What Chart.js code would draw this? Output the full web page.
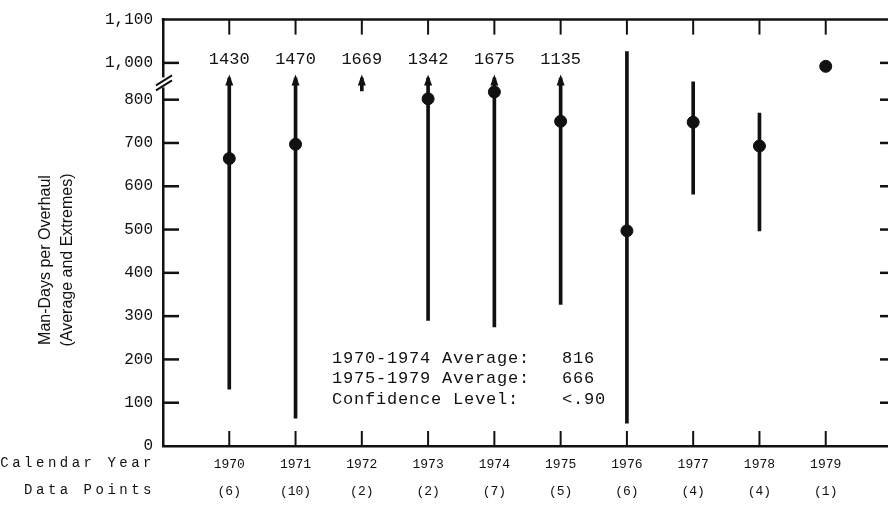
<!DOCTYPE html>
<html>
<head>
<meta charset="utf-8">
<script src="https://cdn.jsdelivr.net/npm/chart.js@4/dist/chart.umd.min.js"></script>
<style>
  html, body { margin: 0; padding: 0; background: #fff; overflow: hidden; }
  #wrap { width: 900px; height: 506px; }
</style>
</head>
<body>
<div id="wrap"><canvas id="c" width="900" height="506"></canvas></div>
<script>
// Overhaul durations by calendar year: average and extremes (man-days)
const years      = [1970, 1971, 1972, 1973, 1974, 1975, 1976, 1977, 1978, 1979];
const dataPoints = [6, 10, 2, 2, 7, 5, 6, 4, 4, 1];
const averages   = [664, 697, null, 802, 818, 750, 497, 748, 693, 992];
const lows       = [131, 64, null, 290, 275, 327, 53, 582, 497, 992];
const highs      = [1430, 1470, 1669, 1342, 1675, 1135, 1026, 841, 769, 992];
const yTickValues = [0, 100, 200, 300, 400, 500, 600, 700, 800, 1000, 1100];
const yTitleLines = ['Man-Days per Overhaul', '(Average and Extremes)'];
const summaryRows = [
  ['1970-1974 Average:', '816'],
  ['1975-1979 Average:', '666'],
  ['Confidence Level:',  '<.90']
];

// Broken value axis: 0-850 is linear, 850-975 is squeezed, above 975 shifted down.
const BREAK_FROM = 850, BREAK_TO = 975, BREAK_SPAN = 10, SHIFT = 115;
const AXIS_TOP = 1100 - SHIFT;
function toAxis(v) {
  if (v <= BREAK_FROM) return v;
  if (v >= BREAK_TO) return v - SHIFT;
  return BREAK_FROM + (v - BREAK_FROM) * BREAK_SPAN / (BREAK_TO - BREAK_FROM);
}
// Off-scale maxima end in an arrow just above the break
const ARROW_TIP = 858;     // axis units
const ARROW_BASE = 850;
const STUB_FROM = 820;     // short arrow when the whole range is off-scale
const BREAK_MARK = 840;

const ink = '#111';
const mono = '"Liberation Mono", "DejaVu Sans Mono", monospace';

const rangeData = years.map((yr, i) => {
  const hi = highs[i] == null ? null : Math.min(toAxis(highs[i]), highs[i] > 1100 ? ARROW_BASE : AXIS_TOP);
  const lo = lows[i] == null ? (highs[i] > 1100 ? STUB_FROM : null) : toAxis(lows[i]);
  return { x: yr, y: (lo == null || hi == null) ? null : [lo, hi] };
});
const meanData = years.map((yr, i) => ({ x: yr, y: averages[i] == null ? null : toAxis(averages[i]) }));

function labelFor(axisValue) {
  const v = yTickValues.find(t => Math.abs(toAxis(t) - axisValue) < 0.01);
  return v == null ? '' : v.toLocaleString('en-US');
}

const overlay = {
  id: 'overlay',
  afterDraw(chart) {
    const { ctx, chartArea: a, scales: { x, y } } = chart;
    const seg = (x1, y1, x2, y2) => { ctx.beginPath(); ctx.moveTo(x1, y1); ctx.lineTo(x2, y2); ctx.stroke(); };
    ctx.save();
    ctx.strokeStyle = ink; ctx.fillStyle = ink; ctx.lineWidth = 2.5;

    // top frame
    seg(a.left - 1.25, a.top, a.right, a.top);

    // inward tick marks on all four sides
    yTickValues.forEach(t => {
      if (t === 0 || t === 1100) return;
      const py = y.getPixelForValue(toAxis(t));
      seg(a.left, py, a.left + 16, py);
      seg(a.right - 12, py, a.right, py);
    });
    ctx.lineWidth = 2;
    years.forEach(yr => {
      const px = x.getPixelForValue(yr);
      seg(px, a.bottom, px, a.bottom - 15);
      seg(px, a.top, px, a.top + 15);
    });

    // axis break
    const by = y.getPixelForValue(BREAK_MARK);
    ctx.fillStyle = '#fff';
    ctx.fillRect(a.left - 3, by - 5, 6, 10);
    ctx.fillStyle = ink;
    seg(a.left - 7, by + 3, a.left + 9, by - 7);
    seg(a.left - 7, by + 8, a.left + 9, by - 2);

    // arrows and stated maxima for off-scale extremes
    ctx.font = '17px ' + mono;
    ctx.textAlign = 'center';
    ctx.textBaseline = 'middle';
    years.forEach((yr, i) => {
      if (!(highs[i] > 1100)) return;
      const px = x.getPixelForValue(yr);
      const tip = y.getPixelForValue(ARROW_TIP);
      ctx.beginPath();
      ctx.moveTo(px, tip);
      ctx.lineTo(px - 4, tip + 11);
      ctx.lineTo(px + 4, tip + 11);
      ctx.closePath();
      ctx.fill();
      ctx.fillText(String(highs[i]), px, tip - 15);
    });

    // value-axis title, two rotated lines
    ctx.save();
    ctx.translate(46, 260);
    ctx.rotate(-Math.PI / 2);
    ctx.font = '16px "Liberation Sans", Arial, sans-serif';
    yTitleLines.forEach((t, i) => ctx.fillText(t, 0, i * 22));
    ctx.restore();

    // row headers beside the year and count labels
    ctx.font = '14px ' + mono;
    if ('letterSpacing' in ctx) ctx.letterSpacing = '3.5px';
    ctx.textAlign = 'right';
    ctx.fillText('Calendar Year', a.left - 8, a.bottom + 17);
    ctx.fillText('Data Points', a.left - 8, a.bottom + 44);

    // summary statistics
    ctx.font = '17px ' + mono;
    if ('letterSpacing' in ctx) ctx.letterSpacing = '0.8px';
    ctx.textAlign = 'left';
    summaryRows.forEach((row, i) => {
      const ty = 358 + i * 20.5;
      ctx.fillText(row[0], 332, ty);
      ctx.fillText(row[1], 562, ty);
    });
    if ('letterSpacing' in ctx) ctx.letterSpacing = '0px';
    ctx.restore();
  }
};

new Chart(document.getElementById('c'), {
  type: 'bar',
  data: {
    datasets: [
      {
        type: 'scatter',
        label: 'Average',
        data: meanData,
        backgroundColor: ink,
        borderColor: ink,
        pointRadius: 6,
        pointHoverRadius: 6,
        order: 0
      },
      {
        type: 'bar',
        label: 'Extremes',
        data: rangeData,
        backgroundColor: ink,
        barThickness: 3,
        borderWidth: 0,
        order: 1
      }
    ]
  },
  options: {
    responsive: false,
    devicePixelRatio: 1,
    animation: false,
    layout: { padding: { left: 0, right: 8, top: 18, bottom: 0 } },
    plugins: { legend: { display: false }, tooltip: { enabled: false } },
    scales: {
      x: {
        type: 'linear',
        min: 1969,
        max: 1980,
        offset: false,
        grid: { display: false, drawTicks: false, offset: false },
        border: { display: true, color: ink, width: 2.5 },
        afterBuildTicks: s => { s.ticks = years.map(v => ({ value: v })); },
        afterFit: s => { s.height = 60; },
        ticks: {
          autoSkip: false,
          maxRotation: 0,
          padding: 5,
          color: ink,
          font: { family: mono, size: 13, lineHeight: '27px' },
          callback: v => {
            const i = years.indexOf(v);
            return i < 0 ? '' : [String(v), '(' + dataPoints[i] + ')'];
          }
        }
      },
      y: {
        type: 'linear',
        min: 0,
        max: AXIS_TOP,
        grid: { display: false, drawTicks: false },
        border: { display: true, color: ink, width: 2.5 },
        afterBuildTicks: s => { s.ticks = yTickValues.map(v => ({ value: toAxis(v) })); },
        afterFit: s => { s.width = 163; },
        ticks: {
          padding: 10,
          color: ink,
          font: { family: mono, size: 16 },
          callback: v => labelFor(v)
        }
      }
    }
  },
  plugins: [overlay]
});
</script>
</body>
</html>
